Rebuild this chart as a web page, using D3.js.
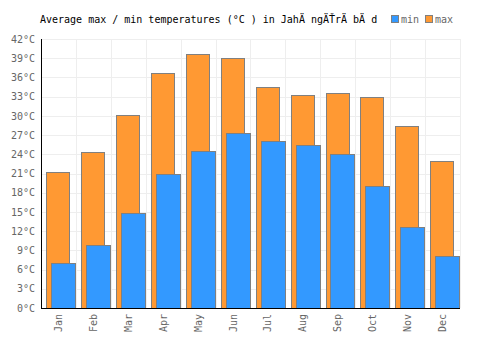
<!DOCTYPE html>
<html>
<head>
<meta charset="utf-8">
<script src="https://cdn.jsdelivr.net/npm/d3@7"></script>
<style>
    body { margin: 0; background: #fff; }
    text { font-family: "DejaVu Sans Mono", monospace; }
</style>
</head>
<body>
<div id="chart"></div>
<script>
// monthly values
const months = ["Jan","Feb","Mar","Apr","May","Jun","Jul","Aug","Sep","Oct","Nov","Dec"];
const maxTemps = [21.3, 24.3, 30.1, 36.7, 39.7, 39.0, 34.5, 33.2, 33.5, 32.9, 28.4, 22.9];
const minTemps = [7.1, 9.8, 14.8, 20.9, 24.5, 27.3, 26.0, 25.4, 24.0, 19.0, 12.6, 8.1];
const yTicks = [0, 3, 6, 9, 12, 15, 18, 21, 24, 27, 30, 33, 36, 39, 42];

const width = 500;
const height = 350;
const margin = {top: 39, left: 41, right: 40, bottom: 42};

const svg = d3.select("#chart")
    .append("svg")
    .attr("width", width)
    .attr("height", height);

const xScale = d3.scaleBand()
    .domain(months)
    .range([margin.left, width - margin.right]);

const yScale = d3.scaleLinear()
    .domain([0, 42])
    .range([height - margin.bottom, margin.top]);

const bw = xScale.bandwidth();

// grid
svg.append("g")
    .selectAll("line")
    .data(yTicks)
    .enter()
    .append("line")
        .attr("x1", margin.left)
        .attr("x2", width - margin.right)
        .attr("y1", d => Math.round(yScale(d)) + 0.5)
        .attr("y2", d => Math.round(yScale(d)) + 0.5)
        .attr("stroke", "#eeeeee");

svg.append("g")
    .selectAll("line")
    .data(months)
    .enter()
    .append("line")
        .attr("x1", d => Math.round(xScale(d) + bw) + 0.5)
        .attr("x2", d => Math.round(xScale(d) + bw) + 0.5)
        .attr("y1", margin.top)
        .attr("y2", height - margin.bottom)
        .attr("stroke", "#eeeeee");

// bars
svg.selectAll("rect.max")
    .data(maxTemps)
    .enter()
    .append("rect")
        .attr("class", "max")
        .attr("x", (d, i) => Math.round(xScale(months[i]) + bw * 0.15) + 0.5)
        .attr("y", d => Math.round(yScale(d)) + 0.5)
        .attr("width", Math.round(bw * 0.66))
        .attr("height", d => yScale(0) - Math.round(yScale(d)))
        .attr("fill", "#ff9933")
        .attr("stroke", "#808080");

svg.selectAll("rect.min")
    .data(minTemps)
    .enter()
    .append("rect")
        .attr("class", "min")
        .attr("x", (d, i) => Math.round(xScale(months[i]) + bw * 0.29) + 0.5)
        .attr("y", d => Math.round(yScale(d)) + 0.5)
        .attr("width", Math.round(bw * 0.69))
        .attr("height", d => yScale(0) - Math.round(yScale(d)))
        .attr("fill", "#3399ff")
        .attr("stroke", "#808080");

// axes
const xAxis = svg.append("g")
    .attr("transform", `translate(0,${height - margin.bottom})`)
    .call(d3.axisBottom(xScale).tickSize(0).tickPadding(6));
xAxis.select(".domain").attr("stroke", "#000").attr("d", `M${margin.left},0.5H${width - margin.right}`);
xAxis.selectAll("text")
    .attr("transform", "rotate(-90)")
    .attr("text-anchor", "end")
    .attr("dx", "-6")
    .attr("dy", "0.35em")
    .attr("y", 0)
    .attr("x", 0)
    .attr("fill", "#666")
    .style("font-size", "10px")
    .style("font-family", "DejaVu Sans Mono, monospace");

const yAxis = svg.append("g")
    .attr("transform", `translate(${margin.left},0)`)
    .call(d3.axisLeft(yScale).tickValues(yTicks).tickSize(0).tickPadding(6).tickFormat(d => d + "°C"));
yAxis.select(".domain").attr("stroke", "#000").attr("d", `M0.5,${margin.top}V${height - margin.bottom}`);
yAxis.selectAll("text")
    .attr("fill", "#666")
    .style("font-size", "10px")
    .style("font-family", "DejaVu Sans Mono, monospace");

// title
svg.append("text")
    .attr("x", 40)
    .attr("y", 23)
    .attr("font-size", "10px")
    .attr("fill", "#000")
    .text("Average max / min temperatures (°C ) in JahÄ ngÄŤrÄ bÄ d");

// legend
const legend = [{name: "min", color: "#3399ff", x: 391}, {name: "max", color: "#ff9933", x: 425}];
const lg = svg.selectAll("g.legend")
    .data(legend)
    .enter()
    .append("g")
        .attr("class", "legend")
        .attr("transform", d => `translate(${d.x},15)`);
lg.append("rect")
    .attr("x", 0.5)
    .attr("y", 0.5)
    .attr("width", 7)
    .attr("height", 7)
    .attr("fill", d => d.color)
    .attr("stroke", "#808080");
lg.append("text")
    .attr("x", 10)
    .attr("y", 8)
    .attr("font-size", "10px")
    .attr("fill", "#666")
    .text(d => d.name);
</script>
</body>
</html>
